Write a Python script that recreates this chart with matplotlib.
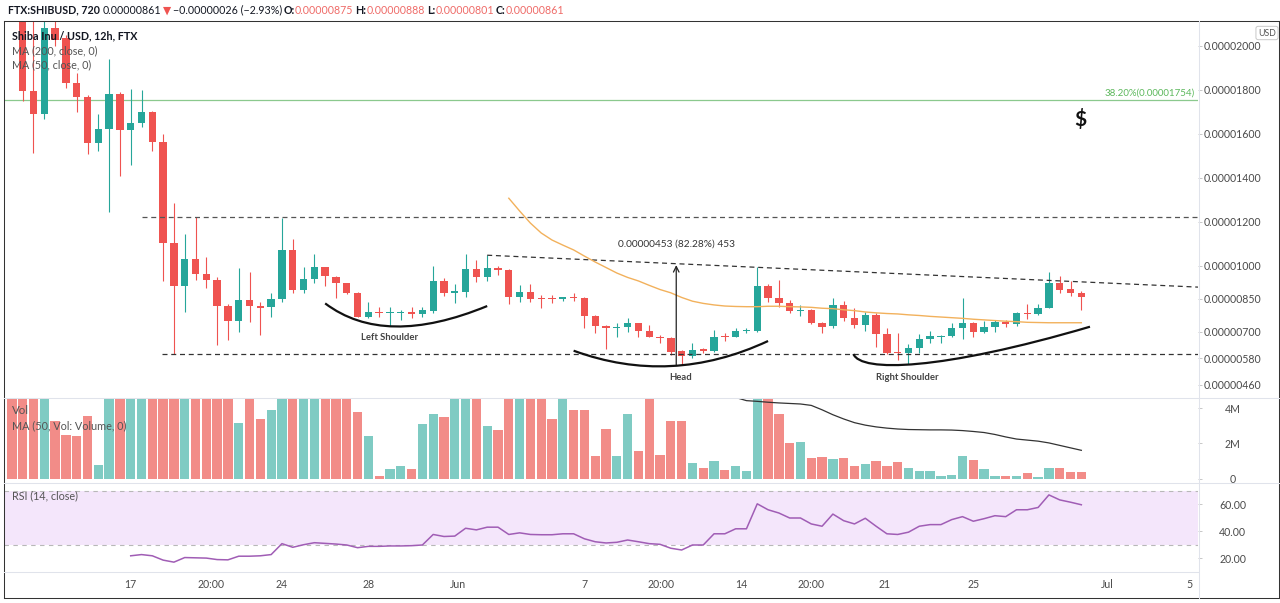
#!/usr/bin/env python3
"""SHIB/USD 12h (FTX) candlestick chart with inverse head & shoulders markup -> out.png"""
import numpy as np
import matplotlib
matplotlib.use("Agg")
import matplotlib.pyplot as plt
from matplotlib.path import Path
from matplotlib.patches import PathPatch
from matplotlib.lines import Line2D
from matplotlib.transforms import blended_transform_factory

W, H = 1280, 603
plt.rcParams["font.family"] = ["Lato", "DejaVu Sans"]

# ---- data: prices in 1e-8 USD, volume in millions, x = 12h bar index ----
FIRST_BAR = -1
OPEN = [2300, 2170, 1796, 1689, 2080, 2035, 1833, 1770, 1558, 1621,
        1782, 1618, 1652, 1699, 1565, 1103, 911, 1034, 964, 936,
        820, 752, 846, 818, 812, 849, 1073, 891, 940, 994,
        952, 921, 879, 770, 789, 785, 787, 792, 781, 797,
        932, 879, 883, 985, 949, 992, 982, 861, 883, 853,
        852, 850, 858, 853, 773, 727, 717, 724, 739, 706,
        679, 674, 614, 591, 621, 615, 683, 679, 705, 705,
        909, 853, 833, 796, 800, 742, 727, 823, 762, 732,
        777, 691, 611, 606, 626, 667, 679, 682, 720, 742,
        702, 721, 744, 736, 788, 782, 811, 924, 894, 875]
HIGH = [2350, 2200, 2160, 2130, 2120, 2050, 1876, 1775, 1689, 1939,
        1790, 1803, 1800, 1705, 1599, 1285, 1144, 1224, 1043, 952,
        825, 990, 971, 838, 879, 1217, 1123, 997, 1053, 997,
        955, 924, 882, 838, 812, 812, 800, 812, 815, 1000,
        947, 917, 1055, 1027, 1050, 1000, 985, 914, 917, 868,
        868, 861, 876, 861, 776, 732, 739, 762, 742, 732,
        686, 677, 617, 649, 629, 709, 697, 717, 717, 994,
        918, 936, 845, 823, 803, 745, 856, 841, 808, 792,
        785, 717, 697, 645, 691, 706, 686, 739, 856, 745,
        752, 755, 755, 792, 827, 826, 971, 956, 932, 888]
LOW = [2150, 1750, 1512, 1668, 2000, 1811, 1702, 1508, 1523, 1244,
       1411, 1459, 1630, 1523, 932, 599, 792, 936, 902, 641,
       664, 702, 744, 686, 770, 838, 879, 876, 921, 911,
       853, 873, 767, 762, 767, 725, 755, 765, 770, 785,
       864, 833, 861, 929, 932, 959, 826, 838, 838, 808,
       833, 842, 842, 717, 694, 621, 679, 702, 679, 676,
       652, 596, 551, 580, 603, 611, 661, 676, 697, 702,
       838, 815, 788, 773, 736, 694, 717, 750, 717, 706,
       633, 600, 573, 553, 606, 649, 649, 679, 667, 676,
       694, 702, 724, 727, 758, 777, 808, 876, 864, 801]
CLOSE = [2170, 1796, 1689, 2080, 2027, 1833, 1767, 1558, 1621, 1782,
         1618, 1652, 1699, 1565, 1103, 911, 1034, 964, 936, 820,
         752, 846, 818, 811, 849, 1073, 891, 940, 994, 955,
         921, 879, 770, 789, 785, 789, 790, 780, 800, 932,
         879, 886, 985, 949, 989, 982, 861, 883, 849, 849,
         850, 858, 853, 773, 727, 717, 724, 739, 706, 679,
         674, 611, 591, 618, 615, 679, 679, 705, 708, 909,
         853, 833, 796, 800, 742, 724, 823, 762, 732, 777,
         691, 606, 606, 626, 667, 682, 683, 717, 742, 702,
         724, 744, 736, 788, 782, 811, 924, 891, 879, 861]
VOLUME = [6.5, 7.0, 6.0, 8.0, 3.26, 2.47, 2.42, 3.53, 0.78, 5.5,
          6.0, 5.0, 4.8, 5.0, 7.5, 9.0, 6.0, 5.5, 5.0, 4.8,
          5.2, 3.16, 4.9, 3.39, 3.91, 6.0, 4.9, 5.1, 4.7, 5.0,
          4.8, 4.7, 3.78, 2.42, 0.15, 0.56, 0.69, 0.52, 3.07, 3.66,
          3.48, 5.0, 4.8, 4.7, 2.98, 2.73, 5.0, 5.5, 4.9, 4.7,
          3.35, 4.8, 3.91, 3.91, 1.26, 2.83, 1.30, 3.68, 1.58, 5.0,
          1.34, 3.29, 3.26, 0.87, 0.61, 1.02, 0.47, 0.69, 0.41, 6.0,
          5.5, 3.66, 2.01, 2.10, 1.15, 1.21, 1.12, 1.15, 0.69, 0.80,
          0.97, 0.69, 0.93, 0.61, 0.43, 0.43, 0.15, 0.22, 1.25, 1.06,
          0.54, 0.17, 0.17, 0.17, 0.30, 0.09, 0.61, 0.61, 0.35, 0.35]
MA50_START = 45
MA50 = [1308, 1250, 1195, 1150, 1118, 1095, 1073, 1045, 1018, 993,
        968, 948, 932, 912, 893, 878, 857, 840, 830, 823,
        818, 816, 815, 815, 817, 817, 815, 814, 812, 808,
        806, 801, 797, 791, 787, 784, 782, 778, 775, 771,
        768, 765, 762, 758, 755, 752, 749, 747, 744, 743,
        742, 742, 742, 742]
VOL_MA_START = 66
VOL_MA = [4.60, 4.42, 4.38, 4.33, 4.29, 4.26, 4.23, 4.15, 3.90, 3.62,
          3.38, 3.17, 3.03, 2.93, 2.86, 2.81, 2.78, 2.77, 2.76, 2.76,
          2.75, 2.72, 2.67, 2.61, 2.50, 2.36, 2.24, 2.18, 2.12, 2.02,
          1.88, 1.74, 1.60]
RSI_START = 10
RSI = [22.0, 22.9, 22.0, 18.8, 17.3, 20.7, 20.5, 20.3, 19.2, 19.0,
       21.7, 21.7, 22.0, 22.9, 31.0, 28.3, 30.2, 31.7, 31.2, 30.7,
       30.0, 28.0, 29.0, 29.0, 29.3, 29.3, 29.5, 30.0, 37.8, 36.3,
       36.6, 42.4, 41.2, 43.2, 43.2, 37.8, 39.0, 37.8, 37.6, 37.6,
       38.3, 38.3, 34.6, 32.4, 31.5, 32.0, 33.7, 32.4, 31.0, 30.5,
       27.6, 26.3, 30.0, 30.0, 38.3, 38.3, 42.0, 42.0, 60.5, 56.1,
       53.7, 50.0, 50.0, 45.6, 43.9, 52.9, 48.0, 45.6, 49.8, 43.9,
       38.3, 37.8, 39.5, 43.9, 45.1, 45.1, 48.8, 51.0, 47.6, 49.5,
       51.7, 51.0, 56.1, 56.1, 57.8, 67.1, 63.4, 61.7, 59.8]

PRICE_TICKS = [2000, 1800, 1600, 1400, 1200, 1000, 850, 700, 580, 460]
VOL_TICKS = [0, 2, 4]
VOL_LABELS = ["0", "2M", "4M"]
RSI_TICKS = [20, 40, 60]
X_TICKS = [10, 17.4, 24, 32, 40.3, 52, 59.1, 66.5, 73, 79.8, 88, 100.4, 108]
X_LABELS = ["17", "20:00", "24", "28", "Jun", "7", "20:00", "14", "20:00",
            "21", "25", "Jul", "5"]

# drawn levels / pattern markup (bar index, price)
FIB_LEVEL = 1754
RESIST = (11.0, 1222)
SUPPORT = (12.9, 600)
NECK_X = [43, 108.8]
NECK_Y = [1049, 904]
MEASURE = (60.5, 551, 1004)
LEFT_SHOULDER = [(28, 830), (33.5, 626), (43, 818)]
HEAD = [(51, 615), (60, 453), (69, 659)]
RIGHT_SHOULDER = [(76.9, 600), (77.6, 515), (85, 525), (98.8, 724)]

GREEN, RED = "#26a69a", "#ef5350"
VGREEN, VRED = "#7fcbc3", "#f28c88"
TXT, AX_TXT = "#131722", "#4a4a4a"
SEP = "#e0e3eb"
XLIM = (-1.73, 108.8)

fig = plt.figure(figsize=(W / 100, H / 100), dpi=100)
R = fig.canvas.get_renderer()


def box(x0, y0, x1, y1):
    return [x0 / W, 1 - y1 / H, (x1 - x0) / W, (y1 - y0) / H]


def fig_line(x0, y0, x1, y1, color, lw=0.75):
    fig.add_artist(Line2D([x0 / W, x1 / W], [1 - y0 / H, 1 - y1 / H],
                          color=color, lw=lw, transform=fig.transFigure))


def fit_text(x, y, s, width, **kw):
    t = fig.text(x / W, 1 - y / H, s, fontsize=10, va="center", ha="left", **kw)
    t.set_fontsize(10 * width / t.get_window_extent(renderer=R).width)
    return t


def right_axis(ax, ticks, labels):
    ax.yaxis.tick_right()
    ax.set_yticks(ticks)
    ax.set_yticklabels(labels)
    ax.tick_params(axis="y", length=3, width=0.7, color="#c8c8c8", pad=22,
                   labelsize=7.6, labelcolor=AX_TXT)
    for lab in ax.get_yticklabels():
        lab.set_ha("center")
    ax.set_xticks([])
    for s in ax.spines.values():
        s.set_visible(False)
    ax.set_xlim(*XLIM)


ax_p = fig.add_axes(box(4, 21, 1198, 397))
ax_v = fig.add_axes(box(4, 398, 1198, 480))
ax_r = fig.add_axes(box(4, 485, 1198, 571))

x = np.arange(FIRST_BAR, FIRST_BAR + len(OPEN))
o, h, l, c = (np.array(a, float) for a in (OPEN, HIGH, LOW, CLOSE))
up = c >= o

# ---- price pane ----
ax_p.vlines(x, l, h, colors=np.where(up, GREEN, RED), lw=0.8, zorder=2)
ax_p.bar(x, np.maximum(np.abs(c - o), 4), bottom=np.minimum(o, c), width=0.68,
         color=np.where(up, GREEN, RED), lw=0, zorder=2)
ax_p.plot(np.arange(MA50_START, MA50_START + len(MA50)), MA50, color="#f2b15c",
          lw=1.0, zorder=3)
ax_p.axhline(FIB_LEVEL, color="#8bc98e", lw=0.9, zorder=1)
ax_p.text(0.997, FIB_LEVEL + 12, "38.20%(0.00001754)", color="#5cb85c", fontsize=7,
          ha="right", va="bottom",
          transform=blended_transform_factory(ax_p.transAxes, ax_p.transData))
ax_p.hlines(RESIST[1], RESIST[0], XLIM[1], colors="#555", lw=0.9, linestyles=(0, (4, 3)))
ax_p.hlines(SUPPORT[1], SUPPORT[0], XLIM[1], colors="#333", lw=0.9, linestyles=(0, (4, 3)))
ax_p.plot(NECK_X, NECK_Y, color="#333", lw=0.9, ls=(0, (4, 3)))
mx, m_lo, m_hi = MEASURE
ax_p.annotate("", xy=(mx, m_hi), xytext=(mx, m_lo),
              arrowprops=dict(arrowstyle="->", color="#222", lw=0.9, shrinkA=0, shrinkB=0))
ax_p.text(mx, 1100, "0.00000453 (82.28%) 453", fontsize=7.3, color="#333",
          ha="center", va="center")
for pts, code in [(LEFT_SHOULDER, Path.CURVE3), (HEAD, Path.CURVE3),
                  (RIGHT_SHOULDER, Path.CURVE4)]:
    path = Path(pts, [Path.MOVETO] + [code] * (len(pts) - 1))
    ax_p.add_patch(PathPatch(path, fc="none", ec="#111", lw=1.6, zorder=4))
for s, (bx, py) in [("Left Shoulder", (34.0, 677)), ("Head", (60.9, 495)),
                    ("Right Shoulder", (81.9, 491))]:
    ax_p.text(bx, py, s, fontsize=6.8, color="#444", fontweight="bold",
              ha="center", va="center")
ax_p.text(97.9, 1664, "$", fontsize=15, fontweight="bold", color="#111",
          ha="center", va="center")
ax_p.set_ylim(404.5, 2113.6)
right_axis(ax_p, PRICE_TICKS, [f"{v * 1e-8:.8f}" for v in PRICE_TICKS])

# ---- volume pane ----
ax_v.bar(x, VOLUME, width=0.86, color=np.where(up, VGREEN, VRED), lw=0)
ax_v.plot(np.arange(VOL_MA_START, VOL_MA_START + len(VOL_MA)), VOL_MA,
          color="#333", lw=0.9)
ax_v.set_ylim(-0.085, 4.57)
right_axis(ax_v, VOL_TICKS, VOL_LABELS)

# ---- RSI pane ----
ax_r.axhspan(30, 70, color="#f4e6fb", lw=0)
ax_r.axhline(70, color="#b8b8b8", lw=0.8, ls=(0, (4, 4)))
ax_r.axhline(30, color="#b8b8b8", lw=0.8, ls=(0, (4, 4)))
ax_r.plot(np.arange(RSI_START, RSI_START + len(RSI)), RSI, color="#a05db5", lw=1.1)
ax_r.set_ylim(10.74, 74.44)
right_axis(ax_r, RSI_TICKS, [f"{v:.2f}" for v in RSI_TICKS])
ax_r.set_xticks(X_TICKS)
ax_r.set_xticklabels(X_LABELS)
ax_r.tick_params(axis="x", length=0, pad=6, labelsize=7.6, labelcolor=AX_TXT)

# ---- frame and separators ----
fig_line(4, 21, 1278.5, 21, "#333")
fig_line(4, 597.5, 1278.5, 597.5, "#333")
fig_line(4, 21, 4, 597.5, "#333")
fig_line(1278.5, 21, 1278.5, 597.5, "#333")
fig_line(4, 397.5, 1278.5, 397.5, SEP)
fig_line(4, 482.5, 1278.5, 482.5, SEP)
fig_line(4, 571.5, 1198, 571.5, SEP)
fig_line(1198.5, 21, 1198.5, 597.5, SEP)
fig.text(1267 / W, 1 - 33 / H, "USD", fontsize=6.3, color="#555", ha="center",
         va="center", bbox=dict(boxstyle="round,pad=0.25", fc="white", ec="#c8c8c8", lw=0.7))

# ---- legends / header text ----
fit_text(12, 36, "Shiba Inu / USD, 12h, FTX", 126, color=TXT, fontweight="bold", zorder=10)
fit_text(12, 51, "MA (200, close, 0)", 85, color="#555", zorder=10)
fit_text(12, 65, "MA (50, close, 0)", 79, color="#555", zorder=10)
fit_text(12, 411, "Vol", 17, color="#555")
fit_text(12, 426, "MA (50, Vol: Volume, 0)", 114, color="#555")
fit_text(12, 496, "RSI (14, close)", 66, color="#555")

HEADER = [("FTX:SHIBUSD, 720", "bold", TXT, 4), ("0.00000861", "normal", TXT, 3),
          ("\u25bc", "normal", RED, 3), ("\u22120.00000026 (\u22122.93%)", "normal", TXT, 4),
          ("O:", "bold", TXT, 0), ("0.00000875", "normal", "#ef6b68", 4),
          ("H:", "bold", TXT, 0), ("0.00000888", "normal", "#ef6b68", 4),
          ("L:", "bold", TXT, 0), ("0.00000801", "normal", "#ef6b68", 4),
          ("C:", "bold", TXT, 0), ("0.00000861", "normal", "#ef6b68", 0)]
parts, widths = [], []
for s, wt, col, gap in HEADER:
    t = fig.text(0, 1 - 10 / H, s, fontsize=10, fontweight=wt, color=col, va="center")
    parts.append((t, gap))
    widths.append(t.get_window_extent(renderer=R).width + gap)
k = 555 / sum(widths)
xpos = 8.0
for (t, gap), wdt in zip(parts, widths):
    t.set_fontsize(10 * k)
    t.set_x(xpos / W)
    xpos += wdt * k

fig.savefig("out.png", dpi=100)
